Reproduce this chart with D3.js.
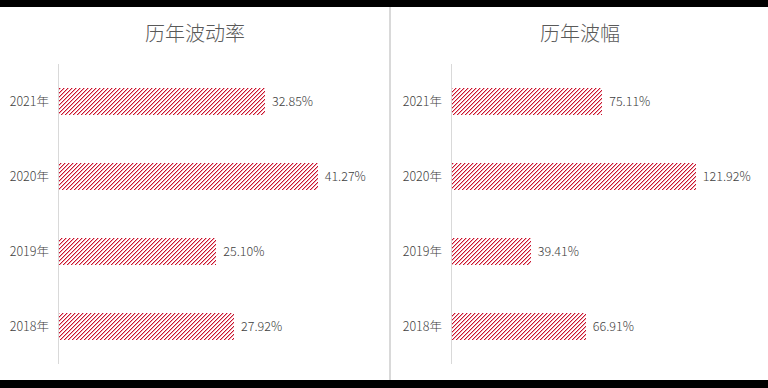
<!DOCTYPE html>
<html>
<head>
<meta charset="utf-8">
<script src="https://cdn.jsdelivr.net/npm/d3@7"></script>
<style>
  body { margin: 0; background: #000; }
  svg { display: block; }
  text { font-family: "Noto Sans CJK SC", "Noto Sans", sans-serif; font-weight: 300; }
</style>
</head>
<body>
<div id="chart"></div>
<script>
// data
var years = ["2021年", "2020年", "2019年", "2018年"];
var volatility = [0.3285, 0.4127, 0.2510, 0.2792];
var amplitude = [0.7511, 1.2192, 0.3941, 0.6691];
var titles = ["历年波动率", "历年波幅"];

var W = 768, H = 388;

var svg = d3.select("#chart").append("svg")
    .attr("width", W)
    .attr("height", H);

// hatch pattern, pixel stepped diagonal
var defs = svg.append("defs");
var pat = defs.append("pattern")
    .attr("id", "hatch")
    .attr("patternUnits", "userSpaceOnUse")
    .attr("width", 4)
    .attr("height", 4);
pat.append("rect").attr("width", 4).attr("height", 4).attr("fill", "#fff");
[[0, 3], [1, 2], [2, 1], [3, 0]].forEach(function(p) {
    pat.append("rect")
        .attr("x", p[0]).attr("y", p[1])
        .attr("width", 1).attr("height", 1)
        .attr("fill", "#c8142e")
        .attr("shape-rendering", "crispEdges");
    pat.append("rect")
        .attr("x", (p[0] + 1) % 4).attr("y", p[1])
        .attr("width", 1).attr("height", 1)
        .attr("fill", "#f0a8b2")
        .attr("shape-rendering", "crispEdges");
});

// white plotting area between black bands
svg.append("rect").attr("x", 0).attr("y", 0).attr("width", W).attr("height", H).attr("fill", "#000");
svg.append("rect").attr("x", 0).attr("y", 7).attr("width", W).attr("height", 373).attr("fill", "#fff");
// panel divider
svg.append("rect").attr("x", 389).attr("y", 7).attr("width", 2).attr("height", 373).attr("fill", "#d9d9d9");

// draw one panel
function drawPanel(title, values, x0, maxVal, cx) {
    var g = svg.append("g");

    var x = d3.scaleLinear().domain([0, maxVal]).range([x0, x0 + 280]);
    var y = d3.scaleBand().domain(years).range([64, 364]).paddingInner(0.64).paddingOuter(0.32);

    g.append("text")
        .attr("x", cx)
        .attr("y", 41)
        .attr("text-anchor", "middle")
        .attr("font-size", 20)
        .attr("fill", "#595959")
        .text(title);

    g.append("line")
        .attr("x1", x0 - 0.5).attr("x2", x0 - 0.5)
        .attr("y1", 64).attr("y2", 364)
        .attr("stroke", "#d9d9d9")
        .attr("stroke-width", 1);

    g.selectAll(".bar")
        .data(values)
        .enter()
        .append("rect")
        .attr("class", "bar")
        .attr("x", x0)
        .attr("y", function(d, i) { return Math.round(y(years[i])); })
        .attr("width", function(d) { return Math.round(x(d) - x0); })
        .attr("height", Math.round(y.bandwidth()))
        .attr("fill", "url(#hatch)");

    g.selectAll(".val")
        .data(values)
        .enter()
        .append("text")
        .attr("class", "val")
        .attr("x", function(d) { return x(d) + 7; })
        .attr("y", function(d, i) { return y(years[i]) + y.bandwidth() / 2; })
        .attr("dy", "0.35em")
        .attr("font-size", 12.5)
        .attr("fill", "#404040")
        .text(function(d) { return (d * 100).toFixed(2) + "%"; });

    g.selectAll(".cat")
        .data(years)
        .enter()
        .append("text")
        .attr("class", "cat")
        .attr("x", x0 - 10)
        .attr("y", function(d) { return y(d) + y.bandwidth() / 2; })
        .attr("dy", "0.35em")
        .attr("text-anchor", "end")
        .attr("font-size", 12.5)
        .attr("fill", "#404040")
        .text(function(d) { return d; });
}

drawPanel(titles[0], volatility, 59, 0.4466, 195);
drawPanel(titles[1], amplitude, 452, 1.40, 580);
</script>
</body>
</html>
